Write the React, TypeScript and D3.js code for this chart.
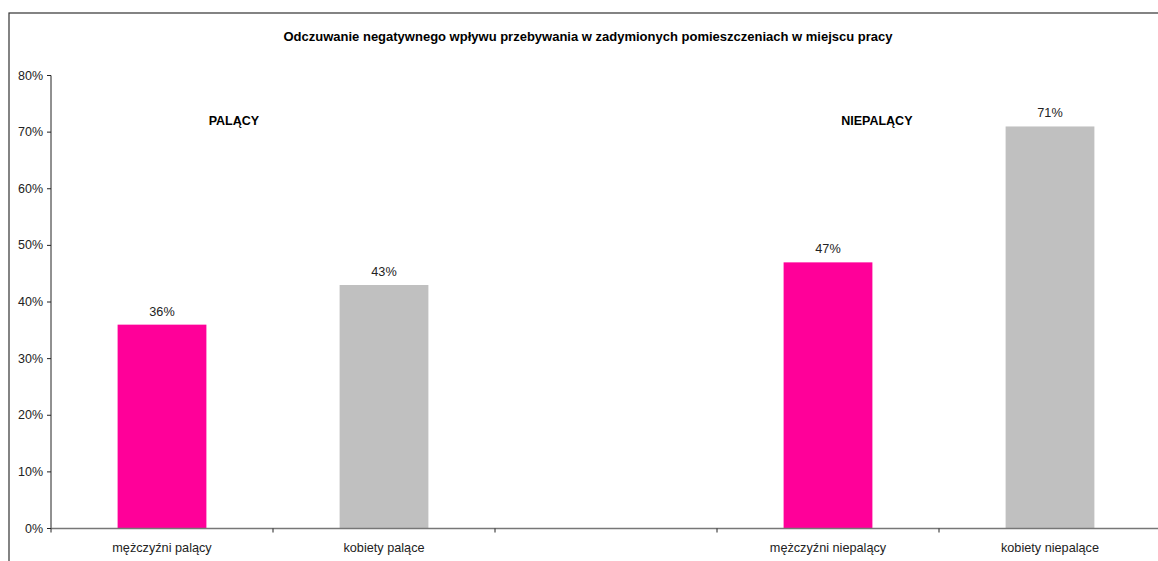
import React from "react";
import * as d3 from "d3";

const categories = ["mężczyźni palący", "kobiety palące", "", "mężczyźni niepalący", "kobiety niepalące"];
const values: (number | null)[] = [36, 43, null, 47, 71];
const barColors = ["#FF0099", "#C0C0C0", "#FFFFFF", "#FF0099", "#C0C0C0"];
const yTicks = [0, 10, 20, 30, 40, 50, 60, 70, 80];
const title = "Odczuwanie negatywnego wpływu przebywania w zadymionych pomieszczeniach w miejscu pracy";
const groupLabels = [
  { text: "PALĄCY", cat: 0, at: 0.824, v: 72 },
  { text: "NIEPALĄCY", cat: 3, at: 0.72, v: 72 },
];

const W = 1158;
const H = 561;
const left = 51;
const right = 1161;
const top = 75.5;
const bottom = 528.5;
const font = "Arial, 'Liberation Sans', sans-serif";
const fs = 12.7;

export default function App() {
  const x = d3.scaleBand<number>().domain(categories.map((_, i) => i)).range([left, right]).paddingInner(0).paddingOuter(0);
  const y = d3.scaleLinear().domain([0, 80]).range([bottom, top]);
  const bw = x.bandwidth() * 0.4;
  return (
    <svg width={W} height={H} style={{ position: "absolute", left: 0, top: 0 }}>
      <rect x={0} y={0} width={W} height={H} fill="#fff" />
      <rect x={9} y={13} width={1170} height={600} fill="none" stroke="#333" strokeWidth={1.2} />
      <text x={588} y={41} textAnchor="middle" fontFamily={font} fontSize={13} fontWeight="bold" fill="#000">{title}</text>
      {values.map((v, i) =>
        v == null ? null : (
          <g key={i}>
            <rect x={x(i)! + (x.bandwidth() - bw) / 2} y={y(v)} width={bw} height={bottom - y(v)} fill={barColors[i]} />
            <text x={x(i)! + x.bandwidth() / 2} y={y(v) - 9} textAnchor="middle" fontFamily={font} fontSize={fs} fill="#222">{v}%</text>
          </g>
        )
      )}
      {groupLabels.map((g, i) => (
        <text key={i} x={x(g.cat)! + x.bandwidth() * g.at} y={y(g.v) + 4} textAnchor="middle" fontFamily={font} fontSize={12.5} fontWeight="bold" fill="#000">{g.text}</text>
      ))}
      {/* y axis */}
      <line x1={left} x2={left} y1={top} y2={bottom} stroke="#222" strokeWidth={1} />
      {yTicks.map((t) => (
        <g key={t}>
          <line x1={left - 4} x2={left} y1={y(t)} y2={y(t)} stroke="#222" />
          <text x={43} y={y(t) + 4} textAnchor="end" fontFamily={font} fontSize={12.5} fill="#222">{t}%</text>
        </g>
      ))}
      {/* x axis */}
      <line x1={left} x2={W} y1={bottom} y2={bottom} stroke="#777" strokeWidth={1.5} />
      {categories.map((c, i) => (
        <g key={i}>
          <line x1={x(i)!} x2={x(i)!} y1={bottom} y2={bottom + 4} stroke="#222" />
          <text x={x(i)! + x.bandwidth() / 2} y={552} textAnchor="middle" fontFamily={font} fontSize={fs} fill="#222">{c}</text>
        </g>
      ))}
    </svg>
  );
}
